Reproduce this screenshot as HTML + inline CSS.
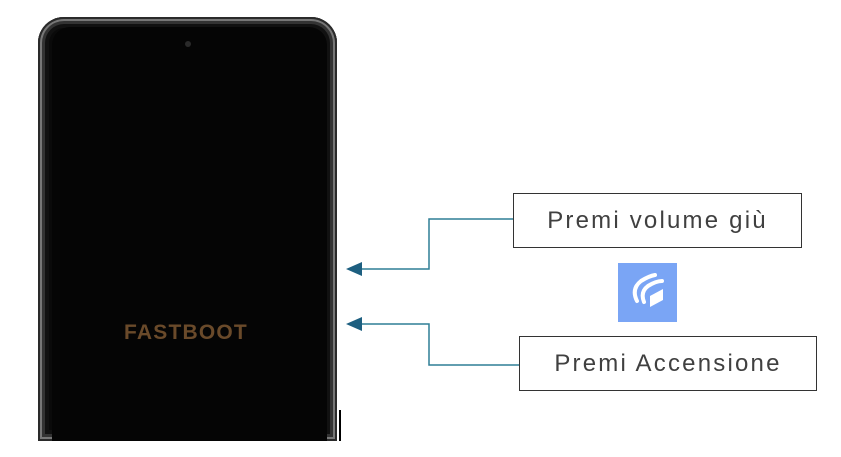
<!DOCTYPE html>
<html><head><style>
html,body{margin:0;padding:0;background:#fff;width:841px;height:457px;overflow:hidden;position:relative;font-family:"Liberation Sans",sans-serif}
.phone{position:absolute;left:38px;top:17px;width:299px;height:424px;background:#0a0a0a;border-radius:26px 26px 0 0;box-shadow:inset 0 0 0 2px #2a2a2a,inset 0 0 0 4px #777,inset 0 0 0 7px #333,inset 0 0 0 11px #111}
.screen{position:absolute;left:14px;top:10px;right:10px;bottom:0;background:#050505;border-radius:18px 18px 0 0}
.cam{position:absolute;left:147px;top:24px;width:6px;height:6px;border-radius:50%;background:#2a2a2a}
.fb{position:absolute;left:124px;top:321px;font-weight:bold;font-size:21px;color:#6a4a2a;letter-spacing:1.2px}
.box{position:absolute;border:1.5px solid #333;background:#fff;font-size:24px;color:#404040;letter-spacing:2.2px;box-sizing:border-box;display:flex;align-items:center;justify-content:center}
</style></head><body>
<div class="phone"><div class="screen"></div><div class="cam"></div></div>
<div class="fb">FASTBOOT</div>
<div style="position:absolute;left:339px;top:410px;width:1.5px;height:31px;background:#000"></div>
<div class="box" style="left:513px;top:193px;width:289px;height:55px">Premi volume giù</div>
<div class="box" style="left:519px;top:336px;width:298px;height:55px">Premi Accensione</div>
<svg style="position:absolute;left:0;top:0" width="841" height="457">
<polyline points="513,219 429,219 429,269 360,269" fill="none" stroke="#2f7f95" stroke-width="1.5"/>
<polyline points="519,365 429,365 429,324 360,324" fill="none" stroke="#2f7f95" stroke-width="1.5"/>
<polygon points="346,269 362,262 362,276" fill="#1d5f80"/>
<polygon points="346,324 362,317 362,331" fill="#1d5f80"/>
<rect x="618" y="263" width="59" height="59" fill="#7aa5f5"/>
<path d="M637,301 q-6,-12 4,-20 q8,-5 14,-6 M644,302 q-4,-10 4,-16 q8,-5 14,-5" stroke="#fff" stroke-width="4" fill="none" stroke-linecap="round"/>
<path d="M650,296 l13,-7 v11 l-13,7z" fill="#fff"/>
</svg>
</body></html>
